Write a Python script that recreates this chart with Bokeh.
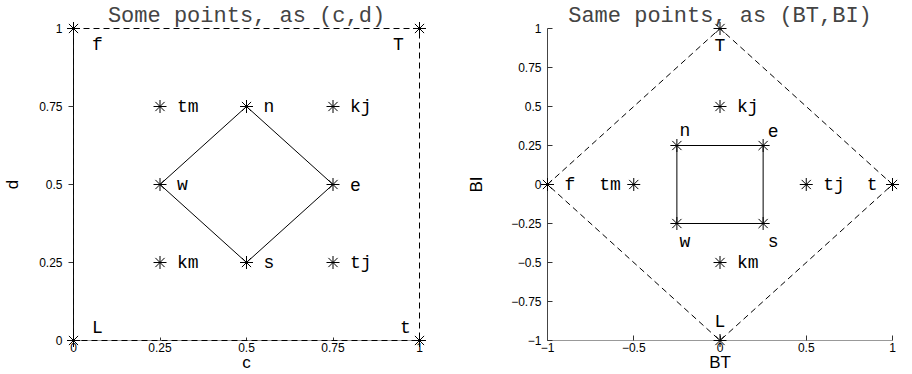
from bokeh.plotting import figure
from bokeh.models import Range1d, FixedTicker, ColumnDataSource
from bokeh.layouts import row
from bokeh.embed import file_html
from bokeh.resources import INLINE
from bokeh.core.properties import value

# ---------------- data ----------------
labels = ["f", "T", "t", "L", "n", "e", "s", "w", "tm", "kj", "km", "tj"]
c_vals = [0, 1, 1, 0, 0.5, 0.75, 0.5, 0.25, 0.25, 0.75, 0.25, 0.75]
d_vals = [1, 1, 0, 0, 0.75, 0.5, 0.25, 0.5, 0.75, 0.75, 0.25, 0.25]
bt_vals = [-1, 0, 1, 0, -0.25, 0.25, 0.25, -0.25, -0.5, 0, 0, 0.5]
bi_vals = [0, 1, 0, -1, 0.25, 0.25, -0.25, -0.25, 0, 0.5, -0.5, 0]

outer_loop = ["f", "T", "t", "L", "f"]      # dashed outline
inner_left = ["w", "n", "e", "s", "w"]      # solid diamond in (c,d)
inner_right = ["n", "e", "s", "w", "n"]     # solid square in (BT,BI)

left_ticks = [0, 0.25, 0.5, 0.75, 1]
left_tick_labels = ["0", "0.25", "0.5", "0.75", "1"]
right_xticks = [-1, -0.5, 0, 0.5, 1]
right_xtick_labels = ["\u22121", "\u22120.5", "0", "0.5", "1"]
right_yticks = [-1, -0.75, -0.5, -0.25, 0, 0.25, 0.5, 0.75, 1]
right_ytick_labels = ["\u22121", "\u22120.75", "\u22120.5", "\u22120.25", "0",
                      "0.25", "0.5", "0.75", "1"]

titles = ["Some points, as (c,d)", "Same points, as (BT,BI)"]
axis_names = [("c", "d"), ("BT", "BI")]

# ---------------- style: label placement (screen px) ----------------
left_style = {
    "f": (24, 16, "center"), "T": (-21, 16, "center"),
    "t": (-14, -13, "center"), "L": (24, -13, "center"),
    "n": (17, 0, "left"), "e": (17, 0, "left"), "s": (17, 0, "left"),
    "w": (17, 0, "left"), "tm": (17, 0, "left"), "kj": (17, 0, "left"),
    "km": (17, 0, "left"), "tj": (17, 0, "left"),
}
right_style = {
    "f": (17, 0, "left"), "T": (0, 17, "center"),
    "t": (-15, 0, "right"), "L": (0, -19, "center"),
    "n": (8, -15, "center"), "e": (10, -15, "center"),
    "s": (10, 18, "center"), "w": (8, 18, "center"),
    "tm": (-13, 0, "right"), "kj": (17, 0, "left"),
    "km": (17, 0, "left"), "tj": (17, 0, "left"),
}

MONO = "Liberation Mono"
SANS = "Liberation Sans"


def idx(names):
    return [labels.index(n) for n in names]


def make_plot(xs, ys, xr, yr, xt, xtl, yt, ytl, title, names, style,
              inner, width, bl, br, ylab_stand, ytick_in, ytick_out, xtick_in,
              yaxis_color):
    p = figure(width=width, height=374, output_backend="svg", toolbar_location=None,
               x_range=Range1d(*xr), y_range=Range1d(*yr),
               min_border_left=bl, min_border_right=br,
               min_border_top=28, min_border_bottom=34)
    p.outline_line_color = None
    p.grid.visible = False
    p.background_fill_color = "white"
    p.border_fill_color = "white"

    p.title.text = title
    p.title.text_font = MONO
    p.title.text_font_size = "22px"
    p.title.text_font_style = "normal"
    p.title.align = "center"
    p.title.standoff = 0

    p.xaxis.ticker = FixedTicker(ticks=xt)
    p.xaxis.major_label_overrides = {t: l for t, l in zip(xt, xtl)}
    p.yaxis.ticker = FixedTicker(ticks=yt)
    p.yaxis.major_label_overrides = {t: l for t, l in zip(yt, ytl)}
    for ax in (p.xaxis, p.yaxis):
        ax.minor_tick_line_color = None
        ax.major_label_text_font = SANS
        ax.major_label_text_font_size = "12px"
        ax.major_label_text_color = "black"
        ax.axis_label_text_font = SANS
        ax.axis_label_text_font_size = "17px"
        ax.axis_label_text_font_style = "normal"
        ax.axis_label_text_color = "black"
        ax.major_tick_line_color = "#333333"
    p.xaxis.axis_label = names[0]
    p.yaxis.axis_label = names[1]
    p.xaxis.major_tick_in = xtick_in
    p.xaxis.major_tick_out = 0
    p.xaxis.major_label_standoff = 2
    p.xaxis.axis_label_standoff = -2
    p.xaxis.axis_line_color = "#999999"
    p.yaxis.major_tick_in = ytick_in
    p.yaxis.major_tick_out = ytick_out
    p.yaxis.major_label_standoff = 6
    p.yaxis.axis_label_standoff = ylab_stand
    p.yaxis.axis_line_color = yaxis_color

    oi = idx(outer_loop)
    p.line([xs[i] for i in oi], [ys[i] for i in oi], line_color="black",
           line_width=1, line_dash="6 4", level="overlay")
    ii = idx(inner)
    p.line([xs[i] for i in ii], [ys[i] for i in ii], line_color="black",
           line_width=1, level="overlay")

    src = ColumnDataSource(dict(
        x=xs, y=ys, text=labels,
        xo=[style[n][0] for n in labels],
        yo=[style[n][1] for n in labels],
        al=[style[n][2] for n in labels],
    ))
    p.scatter("x", "y", source=src, marker="asterisk", size=13,
              line_color="black", line_width=1, level="overlay")
    p.text("x", "y", text="text", source=src, x_offset="xo", y_offset="yo",
           text_align="al", text_baseline="middle", text_font=value(MONO),
           text_font_size="18px", text_color="black", level="overlay")
    return p


p1 = make_plot(c_vals, d_vals, (0, 1), (0, 1), left_ticks, left_tick_labels,
               left_ticks, left_tick_labels, titles[0], axis_names[0],
               left_style, inner_left, 456, 73, 37, 14, 0, 5, 3, "#111111")
p2 = make_plot(bt_vals, bi_vals, (-1, 1), (-1, 1), right_xticks, right_xtick_labels,
               right_yticks, right_ytick_labels, titles[1], axis_names[1],
               right_style, inner_right, 456, 91, 20, 22, 5, 0, 5, "#444444")

layout = row(p1, p2)
open("out.html", "w").write(file_html(layout, INLINE))
